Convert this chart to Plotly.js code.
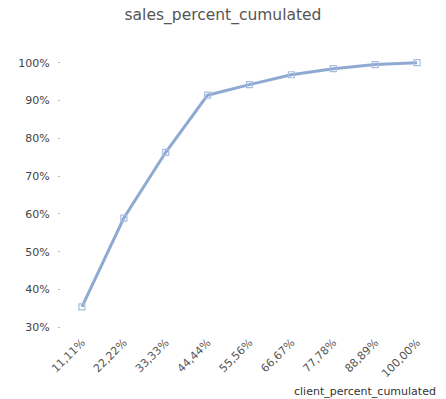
<!DOCTYPE html>
<html><head><meta charset="utf-8">
<script src="https://cdn.plot.ly/plotly-3.0.1.min.js"></script>
<style>body{margin:0;padding:0;background:#fff}#c{width:446px;height:399px}</style>
</head><body><div id="c"></div>
<script>
const categories = ["11,11%","22,22%","33,33%","44,44%","55,56%","66,67%","77,78%","88,89%","100,00%"];
const salesCumulated = [0.354, 0.589, 0.763, 0.914, 0.942, 0.968, 0.984, 0.995, 1.0];
const yTickVals = [0.3,0.4,0.5,0.6,0.7,0.8,0.9,1.0];
const yTickText = ["30%","40%","50%","60%","70%","80%","90%","100%"];

const trace = {
  x: categories, y: salesCumulated, type: 'scatter', mode: 'lines+markers',
  line: {color: '#8eaad2', width: 3},
  marker: {symbol: 'square-open', size: 6, color: '#a8bde0', line: {width: 1.2, color: '#a8bde0'}},
  hoverinfo: 'none'
};
const layout = {
  width: 446, height: 399,
  margin: {l: 61, r: 8, t: 57, b: 66},
  paper_bgcolor: '#fff', plot_bgcolor: '#fff',
  font: {family: 'DejaVu Sans, Verdana, sans-serif', size: 11, color: '#444'},
  title: {text: 'sales_percent_cumulated', x: 0.5, xanchor: 'center', y: 0.963, yanchor: 'middle',
          font: {size: 15.5, color: '#555'}},
  showlegend: false,
  xaxis: {type: 'category', range: [-0.5, 8.5], showgrid: false, zeroline: false, showline: false,
          ticks: '', tickangle: -45, tickfont: {size: 11, color: '#555'}},
  yaxis: {range: [0.285, 1.015], showgrid: false, zeroline: false, showline: false,
          tickvals: yTickVals, ticktext: yTickText, ticks: 'outside', ticklen: 2, tickcolor: '#bbb',
          ticklabelstandoff: 6, tickfont: {size: 11, color: '#444'}},
  annotations: [{text: 'client_percent_cumulated', xref: 'paper', yref: 'paper', x: 1.0, xanchor: 'right',
                 y: -0.18, yanchor: 'top', showarrow: false, font: {size: 11, color: '#333'}}]
};
Plotly.newPlot('c', [trace], layout, {staticPlot: true});
</script></body></html>
